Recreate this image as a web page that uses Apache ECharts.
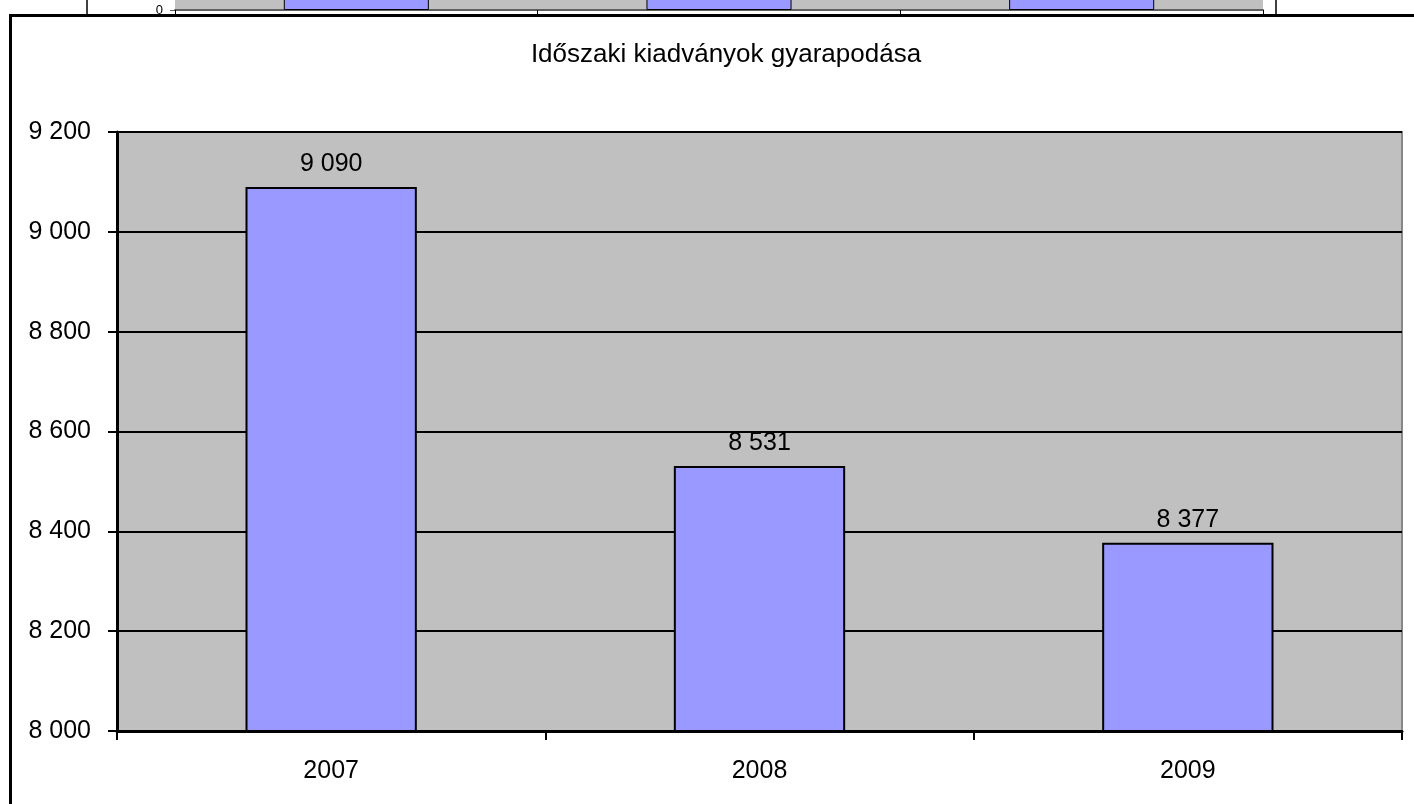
<!DOCTYPE html>
<html>
<head>
<meta charset="utf-8">
<script src="https://cdn.jsdelivr.net/npm/echarts@6/dist/echarts.min.js"></script>
<style>
html,body{margin:0;padding:0;background:#fff;}
#chart{width:1414px;height:804px;}
</style>
</head>
<body>
<div id="chart"></div>
<script>
// Main chart data
const categories = ['2007', '2008', '2009'];
const values = [9090, 8531, 8377];
const yTicks = [8000, 8200, 8400, 8600, 8800, 9000, 9200];
const titleText = 'Időszaki kiadványok gyarapodása';

// Partially visible chart above (only its bottom edge is visible; values estimated)
const prevCategories = ['2007', '2008', '2009'];
const prevValues = [9000, 9000, 9000];

function fmt(v) {
  return String(v).replace(/\B(?=(\d{3})+(?!\d))/g, ' ');
}

const chart = echarts.init(document.getElementById('chart'), null, {renderer: 'canvas'});
const FONT = 'Liberation Sans, Arial, sans-serif';

chart.setOption({
  animation: false,
  backgroundColor: '#ffffff',
  title: {
    text: titleText,
    left: 721,
    top: 37,
    textAlign: 'center',
    textStyle: {fontFamily: FONT, fontSize: 26, fontWeight: 'normal', color: '#000'}
  },
  grid: [
    {left: 175, top: -290, width: 1088, height: 300, show: true, backgroundColor: '#C0C0C0', borderWidth: 0, outerBoundsMode: 'none', containLabel: false},
    {left: 117, top: 132, width: 1285, height: 599, show: true, backgroundColor: '#C0C0C0', borderColor: '#888888', borderWidth: 2, outerBoundsMode: 'none', containLabel: false}
  ],
  xAxis: [
    {
      type: 'category', gridIndex: 0, data: prevCategories,
      axisLine: {show: true, lineStyle: {color: '#606060', width: 2}},
      axisTick: {show: true, length: 5, lineStyle: {color: '#000', width: 1}},
      axisLabel: {show: false}
    },
    {
      type: 'category', gridIndex: 1, data: categories,
      axisLine: {show: true, lineStyle: {color: '#000', width: 3}},
      axisTick: {show: true, length: 9, lineStyle: {color: '#000', width: 2}},
      axisLabel: {fontFamily: FONT, fontSize: 25, color: '#000', margin: 28}
    }
  ],
  yAxis: [
    {
      type: 'value', gridIndex: 0, min: 0, max: 10000, interval: 2000,
      axisLine: {show: false},
      axisTick: {show: true, length: 5, lineStyle: {color: '#606060', width: 1}},
      splitLine: {show: false},
      axisLabel: {fontFamily: FONT, fontSize: 13, color: '#000', margin: 12}
    },
    {
      type: 'value', gridIndex: 1, min: yTicks[0], max: yTicks[yTicks.length - 1], interval: yTicks[1] - yTicks[0],
      axisLine: {show: true, lineStyle: {color: '#000', width: 3}},
      axisTick: {show: true, length: 9, lineStyle: {color: '#000', width: 2}},
      splitLine: {show: true, lineStyle: {color: '#000', width: 2}},
      axisLabel: {fontFamily: FONT, fontSize: 25, color: '#000', margin: 26, formatter: fmt}
    }
  ],
  series: [
    {
      type: 'bar', xAxisIndex: 0, yAxisIndex: 0, data: prevValues,
      barWidth: '40%',
      itemStyle: {color: '#9999FF', borderColor: '#000', borderWidth: 1}
    },
    {
      type: 'bar', xAxisIndex: 1, yAxisIndex: 1, data: values,
      barWidth: '40%',
      itemStyle: {color: '#9999FF', borderColor: '#000', borderWidth: 2},
      label: {show: true, position: 'top', distance: 10, fontFamily: FONT, fontSize: 25, color: '#000', formatter: p => fmt(p.value)}
    }
  ],
  graphic: [
    {type: 'line', shape: {x1: 87, y1: 0, x2: 87, y2: 15}, style: {stroke: '#000', lineWidth: 1.5}, z: 10},
    {type: 'line', shape: {x1: 1276, y1: 0, x2: 1276, y2: 15}, style: {stroke: '#000', lineWidth: 1.5}, z: 10},
    {type: 'line', shape: {x1: 9, y1: 15.5, x2: 1414, y2: 15.5}, style: {stroke: '#000', lineWidth: 3}, z: 10},
    {type: 'line', shape: {x1: 10.5, y1: 15, x2: 10.5, y2: 804}, style: {stroke: '#000', lineWidth: 3}, z: 10}
  ]
});
</script>
</body>
</html>
